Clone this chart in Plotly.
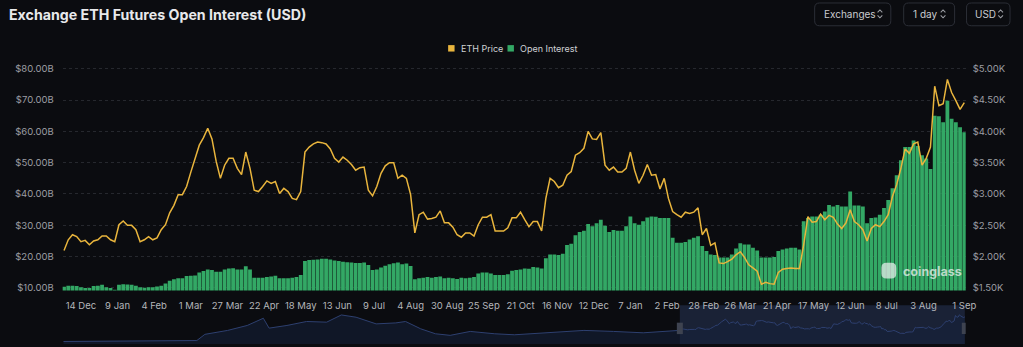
import plotly.graph_objects as go
import pandas as pd

W, H = 1023, 347


def px(x):
    return x / W


def py(y):
    return (H - y) / H


# ---------------- data ----------------
start_date = "2023-12-02"
sample_step = "3D"

eth_price_k = [
    2.10, 2.27, 2.35, 2.32, 2.24, 2.26, 2.19, 2.25, 2.27, 2.33,
    2.33, 2.27, 2.24, 2.51, 2.57, 2.50, 2.50, 2.43, 2.24, 2.27,
    2.32, 2.27, 2.30, 2.43, 2.51, 2.70, 2.82, 2.99, 2.99, 3.12,
    3.35, 3.57, 3.78, 3.90, 4.05, 3.88, 3.52, 3.25, 3.46, 3.57,
    3.57, 3.41, 3.31, 3.67, 3.41, 3.06, 3.04, 3.12, 3.21, 3.17,
    3.20, 3.01, 3.09,
    3.04, 2.93, 2.91, 3.04, 3.67, 3.75, 3.80, 3.83, 3.82, 3.80,
    3.72, 3.57, 3.51, 3.59, 3.54, 3.47, 3.38, 3.42, 3.43, 3.06,
    2.97, 3.12, 3.33, 3.45, 3.50, 3.50, 3.25, 3.30, 3.25, 2.99,
    2.38, 2.67, 2.71, 2.60, 2.61, 2.63, 2.73, 2.54, 2.54, 2.47,
    2.35, 2.31, 2.38, 2.38, 2.33, 2.51, 2.63, 2.63, 2.67, 2.41,
    2.41, 2.41, 2.46, 2.62,
    2.62, 2.71, 2.59, 2.48, 2.56, 2.56, 2.41, 2.93, 3.25, 3.20,
    3.10, 3.14, 3.30, 3.36, 3.62, 3.66, 3.73, 4.00, 3.88, 3.87,
    3.98, 3.46, 3.38, 3.43, 3.35, 3.35, 3.41, 3.67, 3.38, 3.17,
    3.30, 3.47, 3.30, 3.31, 3.08, 3.25, 2.93, 2.72, 2.67, 2.63,
    2.71, 2.69, 2.71, 2.78, 2.35, 2.45, 2.18, 2.22, 1.90, 1.89,
    1.92, 1.96, 2.03, 2.08,
    1.99, 1.87, 1.82, 1.77, 1.56, 1.59, 1.57, 1.56, 1.75, 1.80,
    1.81, 1.82, 1.81, 1.81, 2.19, 2.64, 2.55, 2.56, 2.68, 2.59,
    2.66, 2.63, 2.52, 2.45, 2.54, 2.75, 2.56, 2.51, 2.43, 2.25,
    2.45, 2.51, 2.48, 2.56, 2.67, 2.96, 3.15, 3.41, 3.72, 3.65,
    3.80, 3.83, 3.46, 3.57, 3.75, 4.72, 4.41, 4.44, 4.83, 4.62,
    4.49, 4.35, 4.46,
]

open_interest_b = [
    10.4, 10.7, 10.7, 10.6, 10.2, 10.0, 10.0, 10.6, 10.7, 11.0,
    10.2, 10.0, 9.4, 11.0, 11.2, 11.1, 11.0, 10.7, 10.2, 10.1,
    10.2, 10.2, 10.5, 10.7, 11.4, 12.3, 12.8, 13.1, 13.1, 13.8,
    13.9, 14.0, 14.9, 15.4, 15.9, 15.7, 15.2, 15.2, 15.9, 16.2,
    16.3, 15.9, 15.9, 16.9, 15.9, 13.3, 13.3, 13.3, 13.5, 13.7,
    13.9, 13.1, 13.1,
    13.1, 13.3, 13.5, 14.1, 18.6, 18.9, 19.0, 19.1, 19.3, 19.3,
    19.1, 18.8, 18.6, 18.4, 18.2, 18.1, 18.0, 18.0, 18.1, 17.3,
    15.7, 15.9, 16.5, 17.1, 17.6, 17.9, 18.1, 17.6, 17.8, 17.0,
    12.8, 13.1, 13.3, 13.5, 13.3, 13.5, 13.7, 13.1, 13.3, 13.1,
    12.9, 13.3, 13.1, 13.3, 13.5, 14.6, 14.9, 14.9, 14.6, 14.1,
    14.1, 14.1, 14.4, 15.5,
    15.7, 15.9, 16.2, 16.1, 16.7, 16.5, 16.2, 19.5, 20.7, 20.7,
    20.5, 20.9, 23.7, 24.1, 26.8, 27.9, 28.3, 30.4, 29.7, 30.7,
    31.8, 29.9, 27.9, 28.5, 28.3, 28.3, 29.7, 32.8, 30.7, 30.2,
    31.3, 32.5, 32.8, 32.7, 32.3, 32.3, 32.3, 26.0, 24.4, 24.4,
    24.7, 25.5, 26.0, 26.5, 23.4, 21.8, 20.7, 20.5, 19.7, 19.7,
    19.7, 20.7, 22.6, 24.3,
    23.9, 23.9, 22.8, 22.0, 19.7, 19.7, 19.7, 19.9, 21.8, 22.3,
    22.6, 22.8, 22.8, 22.3, 31.3, 32.3, 32.8, 32.8, 33.4, 34.4,
    36.5, 36.0, 36.5, 36.0, 36.0, 40.8, 36.3, 36.3, 36.0, 30.7,
    32.3, 32.5, 33.4, 35.5, 38.1, 41.8, 46.0, 50.8, 55.0, 55.0,
    57.1, 55.3, 52.4, 51.3, 48.0, 65.0, 64.8, 62.9, 69.8, 64.0,
    62.9, 61.3, 59.7,
]

dates = pd.date_range(start_date, periods=len(eth_price_k), freq=sample_step)

# navigator: longer ETH price history before the visible window
nav_hist_dates = [
    "2020-02-19", "2020-07-14", "2020-12-14", "2021-01-01", "2021-02-21",
    "2021-04-06", "2021-05-12", "2021-05-25", "2021-07-04", "2021-08-17",
    "2021-10-01", "2021-11-03", "2021-12-06", "2022-01-20", "2022-03-05",
    "2022-03-27", "2022-04-30", "2022-06-02", "2022-07-05", "2022-08-19",
    "2022-10-13", "2022-11-26", "2023-02-23", "2023-05-01", "2023-07-06",
    "2023-09-11",
]
nav_hist_price_k = [
    0.14, 0.20, 0.31, 1.40, 2.09,
    2.96, 4.23, 2.49, 2.96, 3.66,
    3.54, 4.81, 4.41, 3.24, 3.41,
    3.66, 2.37, 1.50, 1.22, 1.91,
    1.50, 1.32, 1.79, 2.09, 1.91,
    1.67,
]

tick_dates = [
    "2023-12-14", "2024-01-09", "2024-02-04", "2024-03-01", "2024-03-27",
    "2024-04-22", "2024-05-18", "2024-06-13", "2024-07-09", "2024-08-04",
    "2024-08-30", "2024-09-25", "2024-10-21", "2024-11-16", "2024-12-12",
    "2025-01-07", "2025-02-02", "2025-02-28", "2025-03-26", "2025-04-21",
    "2025-05-17", "2025-06-12", "2025-07-08", "2025-08-03", "2025-09-01",
]
tick_labels = [
    "14 Dec", "9 Jan", "4 Feb", "1 Mar", "27 Mar",
    "22 Apr", "18 May", "13 Jun", "9 Jul", "4 Aug",
    "30 Aug", "25 Sep", "21 Oct", "16 Nov", "12 Dec",
    "7 Jan", "2 Feb", "28 Feb", "26 Mar", "21 Apr",
    "17 May", "12 Jun", "8 Jul", "3 Aug", "1 Sep",
]

oi_ticks = [10, 20, 30, 40, 50, 60, 70, 80]
oi_tick_text = [f"${v:.2f}B" for v in oi_ticks]
price_ticks = [1.5, 2.0, 2.5, 3.0, 3.5, 4.0, 4.5, 5.0]
price_tick_text = [f"${v:.2f}K" for v in price_ticks]

# ---------------- style ----------------
BG = "#0b0c10"
YEL = "#e9b53d"
GREEN = "#33a865"
FONT = "Inter, Roboto, 'Noto Sans', sans-serif"
AXIS_TXT = "#9c9ea3"

x_dom = [px(63.3), px(976.2)]

fig = go.Figure()

fig.add_trace(go.Bar(
    x=dates, y=open_interest_b, name="Open Interest",
    marker=dict(color=GREEN, line=dict(width=0)),
    xaxis="x", yaxis="y", hoverinfo="skip",
))
fig.add_trace(go.Scatter(
    x=dates, y=eth_price_k, name="ETH Price", mode="lines",
    line=dict(color=YEL, width=1.5), xaxis="x", yaxis="y2",
))

nav_x = list(pd.to_datetime(nav_hist_dates)) + list(dates)
nav_y = nav_hist_price_k + eth_price_k
nav_floor = -0.3
fig.add_trace(go.Scatter(
    x=[nav_x[0], nav_x[-1]], y=[nav_floor, nav_floor], mode="lines",
    line=dict(width=0, color="rgba(0,0,0,0)"), xaxis="x2", yaxis="y3",
    showlegend=False, hoverinfo="skip",
))
fig.add_trace(go.Scatter(
    x=nav_x, y=nav_y, mode="lines", fill="tonexty",
    line=dict(color="#2e4070", width=1),
    fillcolor="rgba(22,32,58,0.55)",
    xaxis="x2", yaxis="y3", showlegend=False, hoverinfo="skip",
))

shapes = []
annotations = []


def rrect(x0, y0, x1, y1, r, line_color, fill, width=1, layer="above"):
    rx, ry = r / W, r / H
    X0, X1 = px(x0), px(x1)
    Y0, Y1 = py(y0), py(y1)  # Y0 top, Y1 bottom
    path = (f"M {X0+rx},{Y0} L {X1-rx},{Y0} Q {X1},{Y0} {X1},{Y0-ry} "
            f"L {X1},{Y1+ry} Q {X1},{Y1} {X1-rx},{Y1} L {X0+rx},{Y1} "
            f"Q {X0},{Y1} {X0},{Y1+ry} L {X0},{Y0-ry} Q {X0},{Y0} {X0+rx},{Y0} Z")
    return dict(type="path", xref="paper", yref="paper", path=path,
                line=dict(color=line_color, width=width), fillcolor=fill, layer=layer)


def chevrons(cx, cy, color="#9a9ca2"):
    out = []
    for sgn in (-1, 1):
        p = (f"M {px(cx-2.4)},{py(cy + sgn*1.6)} L {px(cx)},{py(cy + sgn*4.0)} "
             f"L {px(cx+2.4)},{py(cy + sgn*1.6)}")
        out.append(dict(type="path", xref="paper", yref="paper", path=p,
                        line=dict(color=color, width=1.1)))
    return out


# top-right selectors
for (x0, x1, label, tx, cx) in [
    (823.5, 900.5, "Exchanges", 831, 889.5),
    (913.5, 965, "1 day", 920.5, 953.3),
    (977, 1021, "USD", 984, 1011.5),
]:
    shapes.append(rrect(x0, 3, x1, 26, 5, "#2b2e36", "rgba(0,0,0,0)", 1))
    annotations.append(dict(x=px(tx), y=py(14.5), xref="paper", yref="paper",
                            text=label, showarrow=False, xanchor="left", yanchor="middle",
                            font=dict(family=FONT, size=10, color="#c9cbcf")))
    shapes.extend(chevrons(cx, 14))

# title
annotations.append(dict(x=px(7.5), y=py(14.5), xref="paper", yref="paper",
                        text="<b>Exchange ETH Futures Open Interest (USD)</b>",
                        showarrow=False, xanchor="left", yanchor="middle",
                        font=dict(family=FONT, size=14.2, color="#e8e9eb")))

# legend
for (sx, color, label) in [(453, YEL, "ETH Price"), (513, GREEN, "Open Interest")]:
    shapes.append(dict(type="rect", xref="paper", yref="paper",
                       x0=px(sx), x1=px(sx + 6.5), y0=py(52), y1=py(45.5),
                       line=dict(width=0), fillcolor=color))
    annotations.append(dict(x=px(sx + 10.5), y=py(48.8), xref="paper", yref="paper",
                            text=label, showarrow=False, xanchor="left", yanchor="middle",
                            font=dict(family=FONT, size=9, color="#cfd1d4")))

# watermark
shapes.append(rrect(891, 265, 906, 281, 5, "rgba(0,0,0,0)", "rgba(235,240,238,0.72)", 0))
annotations.append(dict(x=px(910.5), y=py(273.5), xref="paper", yref="paper",
                        text="<b>coinglass</b>", showarrow=False, xanchor="left",
                        yanchor="middle",
                        font=dict(family=FONT, size=12.5, color="rgba(235,240,238,0.75)")))

# navigator selection window + handles
sel_start, sel_end = dates[0], dates[-1]
shapes.append(dict(type="rect", xref="x2", yref="paper", x0=sel_start, x1=sel_end,
                   y0=0, y1=py(308), line=dict(width=0), fillcolor="#1a2236", layer="below"))
for hx in (sel_start, sel_end):
    shapes.append(dict(type="rect", xref="x2", yref="paper", xsizemode="pixel",
                       xanchor=hx, x0=-3, x1=3, y0=py(337), y1=py(325.5),
                       line=dict(width=0), fillcolor="#3e4350"))

fig.update_layout(
    width=W, height=H,
    margin=dict(l=0, r=0, t=0, b=0),
    paper_bgcolor=BG, plot_bgcolor=BG,
    showlegend=False,
    bargap=0.1,
    font=dict(family=FONT, color=AXIS_TXT),
    xaxis=dict(
        domain=x_dom, anchor="y", type="date",
        range=["2023-12-01", "2025-09-02"],
        tickmode="array", tickvals=tick_dates, ticktext=tick_labels,
        tickfont=dict(size=9.5, color="#b4b6ba"), ticks="", showgrid=False,
        zeroline=False, showline=False, ticklabelstandoff=8,
    ),
    yaxis=dict(
        domain=[py(293), py(64)], range=[9.2, 81.68],
        tickmode="array", tickvals=oi_ticks, ticktext=oi_tick_text,
        tickfont=dict(size=9.5, color=AXIS_TXT),
        showgrid=True, gridcolor="#26282e", griddash="3px,3px", gridwidth=1,
        zeroline=False, showline=False, ticks="", ticklabelstandoff=8,
    ),
    yaxis2=dict(
        overlaying="y", side="right", anchor="x", range=[1.461, 5.084],
        tickmode="array", tickvals=price_ticks, ticktext=price_tick_text,
        tickfont=dict(size=9.5, color=AXIS_TXT),
        showgrid=False, zeroline=False, showline=False, ticks="", ticklabelstandoff=6,
    ),
    xaxis2=dict(
        domain=x_dom, anchor="y3", type="date",
        range=["2020-02-17", "2025-09-03"],
        showticklabels=False, showgrid=False, zeroline=False, showline=False, ticks="",
    ),
    yaxis3=dict(
        domain=[0, py(308)], range=[nav_floor, 6.5], visible=False,
    ),
    shapes=shapes,
    annotations=annotations,
)

fig.write_html("out.html")
